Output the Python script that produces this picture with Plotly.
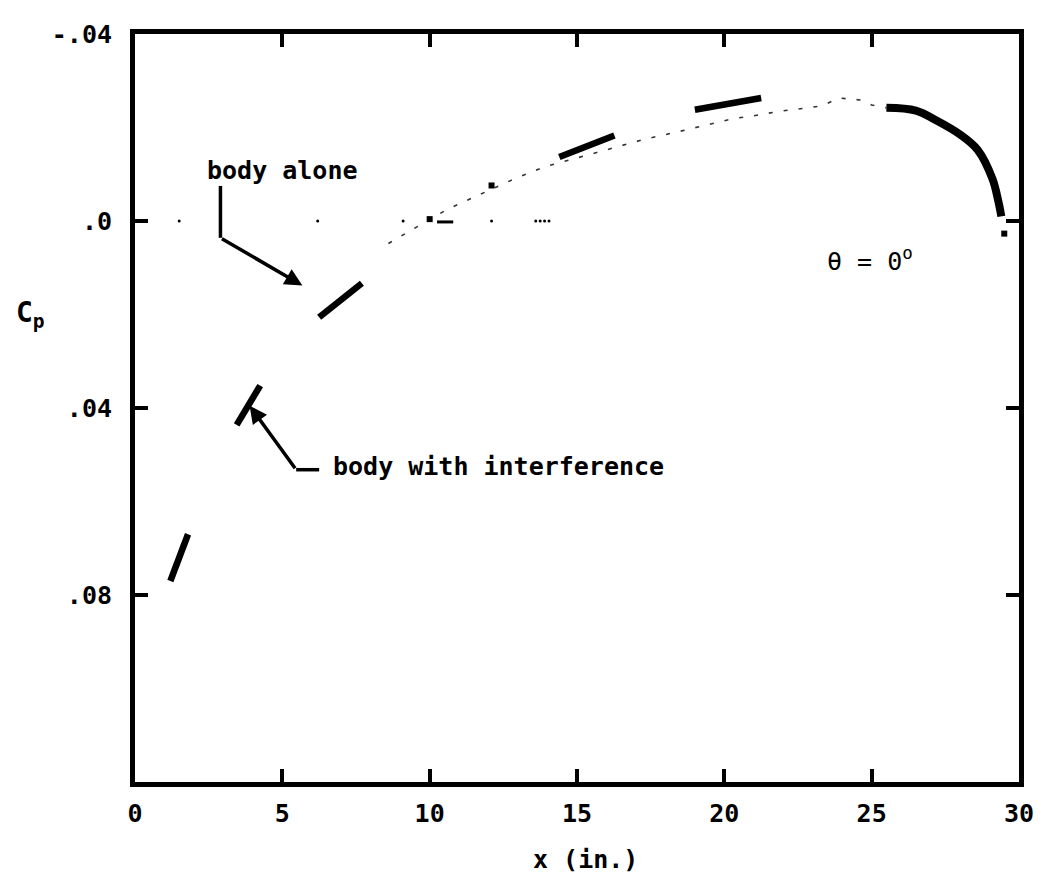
import plotly.graph_objs as go

## thick pieces that survive in the scan (x in inches, Cp)
seg_a_x = [1.2, 1.8]
seg_a_y = [0.077, 0.067]
seg_b_x = [3.45, 4.25]
seg_b_y = [0.0436, 0.0352]
seg_c_x = [6.25, 7.0, 7.7]
seg_c_y = [0.0206, 0.0168, 0.0133]
seg_d_x = [14.4, 15.4, 16.27]
seg_d_y = [-0.0137, -0.0162, -0.0183]
seg_e_x = [19.0, 20.2, 21.25]
seg_e_y = [-0.0238, -0.0253, -0.0263]
tail_x = [25.5, 26.5, 27.2, 28.0, 28.6, 29.1, 29.3, 29.4]
tail_y = [-0.0242, -0.0236, -0.0215, -0.0185, -0.0152, -0.009, -0.0042, -0.001]

## thin dotted curve
thin_x = [8.6, 10.6, 12.8, 13.9, 15.7, 16.6, 17.3, 18.3, 19.4, 20.3, 21.0, 21.8, 23.3, 23.9, 24.6, 25.0, 25.5]
thin_y = [0.0048, -0.0025, -0.0088, -0.0116, -0.0147, -0.0162, -0.0175, -0.0189, -0.0206,
          -0.0219, -0.0225, -0.0234, -0.0246, -0.0263, -0.0259, -0.0248, -0.0242]

## specks left along Cp = 0 and a few stray blobs
zero_dots_x = [1.5, 6.2, 9.1, 12.1, 13.6, 13.75, 13.9, 14.05]
blob_x = [10.0, 12.1, 29.5]
blob_y = [-0.0004, -0.0076, 0.0027]
dash0_x = [10.25, 10.8]
dash0_y = [0.0002, 0.0002]

x_ticks = [0, 5, 10, 15, 20, 25, 30]
y_ticks = [-0.04, 0, 0.04, 0.08]
y_ticktext = ['-.04', '.0', '.04', '.08']

FONT = 'DejaVu Sans Mono'

pieces_x, pieces_y = [], []
for sx, sy in [(seg_a_x, seg_a_y), (seg_b_x, seg_b_y), (seg_c_x, seg_c_y),
               (seg_d_x, seg_d_y), (seg_e_x, seg_e_y)]:
    pieces_x += sx + [None]
    pieces_y += sy + [None]

trace1 = go.Scatter(x=pieces_x, y=pieces_y, mode='lines', showlegend=False,
                    line=dict(color='black', width=6.5))
trace2 = go.Scatter(x=tail_x, y=tail_y, mode='lines', showlegend=False,
                    line=dict(color='black', width=8, shape='spline'))
trace3 = go.Scatter(x=thin_x, y=thin_y, mode='lines', showlegend=False,
                    line=dict(color='#333333', width=1.6, dash='4px,11px'))
trace4 = go.Scatter(x=zero_dots_x, y=[0] * len(zero_dots_x), mode='markers', showlegend=False,
                    marker=dict(color='black', size=3))
trace5 = go.Scatter(x=blob_x, y=blob_y, mode='markers', showlegend=False,
                    marker=dict(color='black', size=6, symbol='square'))
trace6 = go.Scatter(x=dash0_x, y=dash0_y, mode='lines', showlegend=False,
                    line=dict(color='black', width=3))

txt = dict(family=FONT, size=25, color='black', weight='bold')

axis_style = dict(showline=True, linewidth=5, linecolor='black', mirror='ticks',
                  ticks='inside', ticklen=13, tickwidth=4, tickcolor='black',
                  showgrid=False, zeroline=False, tickfont=txt)

## the page body has an 8px margin, so the figure is a bit smaller than the window
layout = go.Layout(
    width=1038, height=866, autosize=False,
    paper_bgcolor='white', plot_bgcolor='white',
    margin=dict(l=127, r=26, t=12, b=92),
    xaxis=dict(range=[0, 30], tickvals=x_ticks, ticklabelstandoff=5, **axis_style),
    yaxis=dict(range=[0.12, -0.04], tickvals=y_ticks, ticktext=y_ticktext,
               ticklabelstandoff=13, **axis_style),
    shapes=[
        dict(type='line', xref='x', yref='y', x0=2.9, x1=2.9, y0=-0.0075, y1=0.0036,
             line=dict(color='black', width=3.5)),
        dict(type='line', xref='x', yref='y', x0=5.47, x1=6.25, y0=0.0532, y1=0.0532,
             line=dict(color='black', width=3.5)),
    ],
    annotations=[
        dict(x=5.0, y=-0.0109, xref='x', yref='y', text='body alone', showarrow=False,
             font=txt),
        dict(x=6.65, y=0.0525, xref='x', yref='y', text='body with interference',
             showarrow=False, xanchor='left', font=txt),
        dict(x=23.4, y=0.0083, xref='x', yref='y', text='θ = 0<sup>o</sup>', showarrow=False,
             xanchor='left', font=dict(family=FONT, size=25, color='black')),
        dict(x=0.51, y=-0.103, xref='paper', yref='paper', text='x (in.)', showarrow=False,
             yanchor='middle', font=txt),
        dict(x=-0.137, y=0.625, xref='paper', yref='paper', text='C<sub>p</sub>',
             showarrow=False, xanchor='left', yanchor='middle',
             font=dict(family=FONT, size=28, color='black', weight='bold')),
        ## leader arrows
        dict(x=5.68, y=0.0138, ax=2.9, ay=0.0036, xref='x', yref='y', axref='x', ayref='y',
             text='', showarrow=True, arrowhead=2, arrowsize=1, arrowwidth=3.5,
             arrowcolor='black'),
        dict(x=3.89, y=0.0395, ax=5.47, ay=0.0532, xref='x', yref='y', axref='x', ayref='y',
             text='', showarrow=True, arrowhead=2, arrowsize=1, arrowwidth=3.5,
             arrowcolor='black'),
    ],
)

fig = go.Figure(data=[trace3, trace1, trace2, trace4, trace5, trace6], layout=layout)
fig.write_html('out.html')
